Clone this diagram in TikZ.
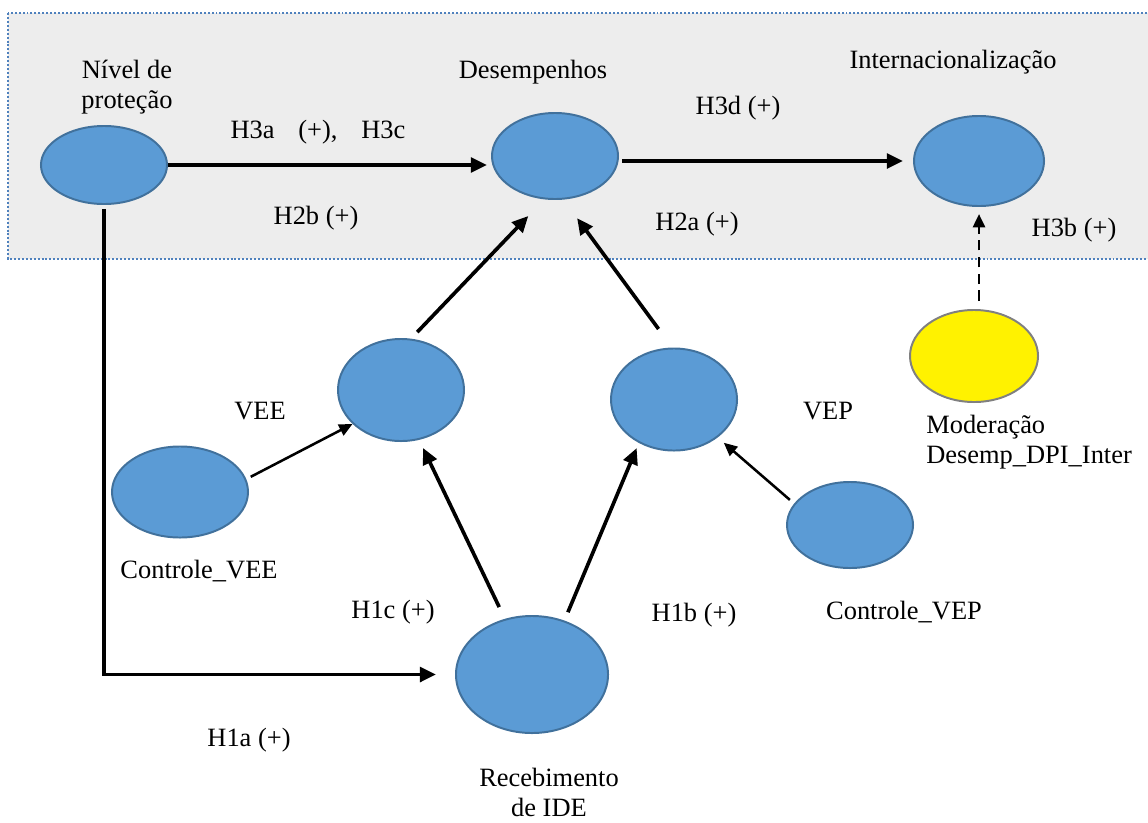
\documentclass[tikz,border=0pt]{standalone}
\usepackage{fontspec}
\setmainfont{Liberation Serif}
\usetikzlibrary{shapes.geometric,arrows.meta}
\definecolor{lvblue}{HTML}{5B9BD5}
\definecolor{lvedge}{HTML}{41719C}
\definecolor{boxgrey}{HTML}{EDEDED}
\definecolor{boxline}{HTML}{4F81BD}
\tikzset{
  lv/.style={ellipse, draw=lvedge, fill=lvblue, line width=1.4pt, inner sep=0pt},
  mv/.style={ellipse, draw=black!50, fill=yellow, line width=1.4pt, inner sep=0pt},
  txt/.style={font=\fontsize{18.8}{21.3}\selectfont, align=center, inner sep=0pt},
  arr/.style={line width=2.6pt, -{Triangle[length=11.5pt,width=10.5pt]}},
  thinarr/.style={line width=1.8pt, -{Triangle[length=9.5pt,width=8.5pt]}},
  dasharr/.style={line width=2pt, dash pattern=on 7.5pt off 4.5pt, -{Triangle[length=9.5pt,width=8.5pt]}},
}
\begin{document}
\begin{tikzpicture}[x=0.025cm,y=-0.025cm]
\useasboundingbox (0,0) rectangle (1148,822);
\draw [boxline, fill=boxgrey, line width=1.4pt, dash pattern=on 1.4pt off 1.4pt] (8,13) rectangle (1170,259);

\node [lv, minimum width=3.15cm, minimum height=1.95cm] (Nivel) at (104,165) {};
\node [lv, minimum width=3.15cm, minimum height=2.15cm] (Desemp) at (555,156) {};
\node [lv, minimum width=3.25cm, minimum height=2.25cm] (Inter) at (979,161) {};
\node [mv, minimum width=3.2cm, minimum height=2.3cm] (Moder) at (974,356) {};
\node [lv, minimum width=3.15cm, minimum height=2.55cm] (VEE) at (401,390) {};
\node [lv, minimum width=3.15cm, minimum height=2.55cm] (VEP) at (674,399.5) {};
\node [lv, minimum width=3.4cm, minimum height=2.275cm] (CVEE) at (180,492) {};
\node [lv, minimum width=3.15cm, minimum height=2.15cm] (CVEP) at (850,525) {};
\node [lv, minimum width=3.8cm, minimum height=2.925cm] (Receb) at (532,674.5) {};

\node [txt] (tNivel) at (127,87) {Nível de\\proteção};
\node [txt] (tDesemp) at (533,72) {Desempenhos};
\node [txt] (tInter) at (953,62) {Internacionalização};
\node [txt, anchor=west, align=left] (tModer) at (926,442) {Moderação\\Desemp\_DPI\_Inter};
\node [txt] (tVEE) at (260,411) {VEE};
\node [txt] (tVEP) at (828,411) {VEP};
\node [txt] (tCVEE) at (199,571) {Controle\_VEE};
\node [txt] (tCVEP) at (904,612) {Controle\_VEP};
\node [txt] (tReceb) at (549,792) {Recebimento\\de IDE};

\node [txt] (H3a) at (318,132) {H3a\hspace{0.9em}(+),\hspace{0.9em}H3c};
\node [txt] (H2b) at (316,218) {H2b (+)};
\node [txt] (H3d) at (738,108) {H3d (+)};
\node [txt] (H2a) at (697,224) {H2a (+)};
\node [txt] (H3b) at (1074,230) {H3b (+)};
\node [txt] (H1c) at (393,612) {H1c (+)};
\node [txt] (H1b) at (694,615) {H1b (+)};
\node [txt] (H1a) at (249,740) {H1a (+)};

% hypotheses between the constructs
\draw [arr, shorten >=0.1cm] (Nivel.east) -- (Nivel.east -| Desemp.west);
\draw [arr, shorten <=0.075cm, shorten >=0.25cm] (Desemp.east |- Inter) -- (Inter.west);
\draw [arr, shorten <=0.1cm, shorten >=0.475cm] (Nivel.south) |- (Receb.west);
\draw [arr, shorten <=0.225cm, shorten >=0.575cm] (VEE.79) -- (Desemp.256);
\draw [arr, shorten <=0.575cm, shorten >=0.575cm] (VEP.92) -- (Desemp.281);
\draw [arr, shorten <=0.325cm, shorten >=0.225cm] (Receb.116) -- (VEE.290);
\draw [arr, shorten <=0.225cm, shorten >=0.14cm] (Receb.59) -- (VEP.231);
\draw [thinarr, shorten <=0.125cm] (CVEE.11) -- (VEE.215);
\draw [thinarr, shorten <=0.14cm, shorten >=0.2cm] (CVEP.159) -- (VEP.319);
\draw [dasharr, shorten <=0.2cm, shorten >=0.175cm] (Inter |- Moder.north) -- (Inter.south);

\end{tikzpicture}
\end{document}
